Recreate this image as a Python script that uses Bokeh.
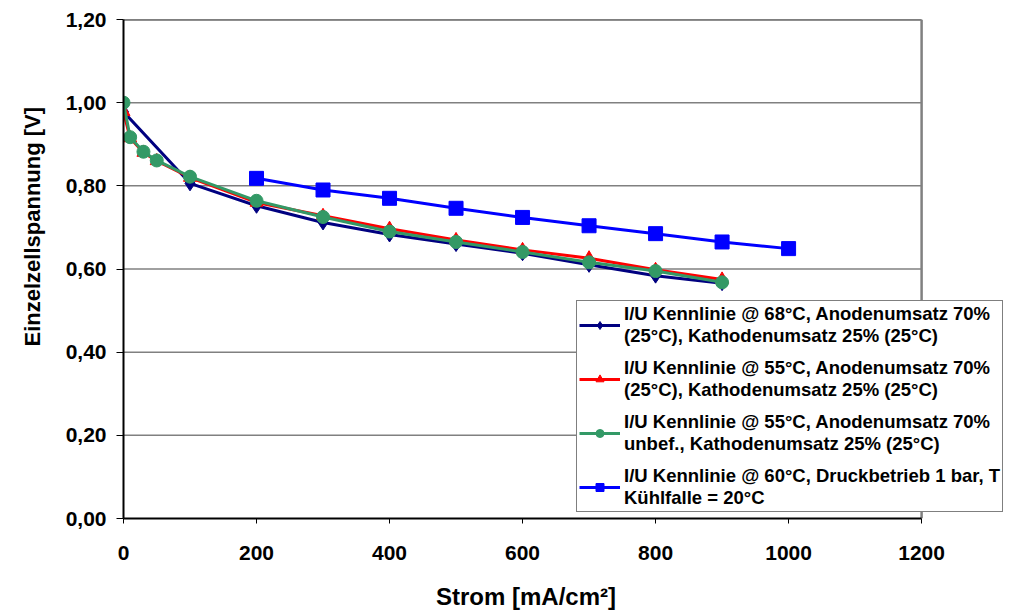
from bokeh.plotting import figure
from bokeh.models import Legend, LegendItem, CustomJSTickFormatter, FixedTicker, Range1d, Title
from bokeh.embed import file_html
from bokeh.resources import INLINE

# ---- data ----
x_68 = [0, 100, 200, 300, 400, 500, 600, 700, 800, 900]
u_68 = [0.978, 0.806, 0.752, 0.712, 0.683, 0.660, 0.638, 0.610, 0.584, 0.566]

x_55a = [0, 10, 30, 50, 100, 200, 300, 400, 500, 600, 700, 800, 900]
u_55a = [0.978, 0.915, 0.880, 0.860, 0.820, 0.760, 0.728, 0.697, 0.670, 0.646, 0.626, 0.598, 0.575]

x_55b = [0, 10, 30, 50, 100, 200, 300, 400, 500, 600, 700, 800, 900]
u_55b = [1.000, 0.917, 0.882, 0.861, 0.822, 0.764, 0.725, 0.690, 0.665, 0.641, 0.616, 0.595, 0.568]

x_60 = [200, 300, 400, 500, 600, 700, 800, 900, 1000]
u_60 = [0.818, 0.790, 0.770, 0.746, 0.724, 0.704, 0.685, 0.665, 0.649]

labels = [
    "I/U Kennlinie @ 68°C, Anodenumsatz 70%\n(25°C), Kathodenumsatz 25% (25°C)",
    "I/U Kennlinie @ 55°C, Anodenumsatz 70%\n(25°C), Kathodenumsatz 25% (25°C)",
    "I/U Kennlinie @ 55°C, Anodenumsatz 70%\nunbef., Kathodenumsatz 25% (25°C)",
    "I/U Kennlinie @ 60°C, Druckbetrieb 1 bar, T\nKühlfalle = 20°C",
]
x_ticks = [0, 200, 400, 600, 800, 1000, 1200]
y_ticks = [0.0, 0.2, 0.4, 0.6, 0.8, 1.0, 1.2]
x_title = "Strom [mA/cm²]"
y_title = "Einzelzellspannung [V]"

FONT = "Liberation Sans"

# layout (pixels)
W, H = 1013, 612
FL, FR, FT, FB = 122, 1008, 19, 519     # frame edges
PLOT_R = 921                              # pixel of x = 1200
x_max = x_ticks[-1]
x_end = x_max * (FR - FL) / (PLOT_R - FL)

p = figure(width=W, height=H, output_backend="svg", toolbar_location=None,
           x_range=Range1d(0, x_end), y_range=Range1d(0, y_ticks[-1]),
           min_border_left=FL, min_border_right=W - FR, min_border_top=FT, min_border_bottom=H - FB)
p.outline_line_color = None
p.background_fill_color = "white"
p.border_fill_color = "white"
p.grid.visible = False

# plot-area grid lines and right border (only up to x = 1200)
p.segment(x0=[0] * (len(y_ticks) - 1), x1=[x_max] * (len(y_ticks) - 1),
          y0=y_ticks[1:], y1=y_ticks[1:], line_color="#808080", line_width=1.5)
p.segment(x0=[0], x1=[x_max], y0=[y_ticks[-1]], y1=[y_ticks[-1]], line_color="#404040", line_width=2)
p.segment(x0=[x_max], x1=[x_max], y0=[0], y1=[y_ticks[-1]], line_color="#808080", line_width=2.5)

p.xaxis.ticker = FixedTicker(ticks=x_ticks)
p.yaxis.ticker = FixedTicker(ticks=y_ticks)
p.xaxis.bounds = (0, x_max)
p.yaxis.formatter = CustomJSTickFormatter(code="return tick.toFixed(2).replace('.', ',');")
for ax in (p.xaxis, p.yaxis):
    ax.axis_line_color = "black"
    ax.axis_line_width = 2
    ax.major_tick_line_color = "black"
    ax.major_tick_in = 0
    ax.minor_tick_line_color = None
    ax.major_label_text_font = FONT
    ax.major_label_text_font_style = "bold"
    ax.major_label_text_font_size = "21px"
    ax.major_label_text_color = "black"
p.xaxis.major_tick_out = 5
p.yaxis.major_tick_out = 7
p.xaxis.major_label_standoff = 22
p.yaxis.major_label_standoff = 10

# x title: axis label, padded on the right so it sits centred under the 0..1200 plot area
p.xaxis.axis_label = x_title + "\u00a0" * 12
p.xaxis.axis_label_standoff = 20
p.xaxis.axis_label_text_font = FONT
p.xaxis.axis_label_text_font_style = "bold"
p.xaxis.axis_label_text_font_size = "24px"
p.xaxis.axis_label_text_color = "black"

# y title: side title, shifted upwards like the reference
yt = Title(text=y_title, align="left", offset=FB - 347, standoff=35,
           text_font=FONT, text_font_style="bold", text_font_size="22px", text_color="black")
p.add_layout(yt, "left")

items = []
l1 = p.line(x_68, u_68, line_color="#000080", line_width=3)
m1 = p.scatter(x_68, u_68, marker="diamond", size=15, fill_color="#000080", line_color="#000080")
items.append(LegendItem(label=labels[0], renderers=[l1, m1]))

l2 = p.line(x_55a, u_55a, line_color="#FF0000", line_width=3)
m2 = p.scatter(x_55a, u_55a, marker="triangle", size=13, fill_color="#FF0000", line_color="#FF0000")
items.append(LegendItem(label=labels[1], renderers=[l2, m2]))

l3 = p.line(x_55b, u_55b, line_color="#339966", line_width=3)
m3 = p.scatter(x_55b, u_55b, marker="circle", size=13, fill_color="#339966", line_color="#339966")
items.append(LegendItem(label=labels[2], renderers=[l3, m3]))

l4 = p.line(x_60, u_60, line_color="#0000FF", line_width=3)
m4 = p.scatter(x_60, u_60, marker="square", size=14, fill_color="#0000FF", line_color="#0000FF")
items.append(LegendItem(label=labels[3], renderers=[l4, m4]))

legend = Legend(items=items, location=(575 - FL, FB - 513))
legend.label_text_font = FONT
legend.label_text_font_style = "bold"
legend.label_text_font_size = "18.5px"
legend.label_text_line_height = 1.4
legend.label_text_color = "black"
legend.glyph_width = 41
legend.glyph_height = 20
legend.label_standoff = 4
legend.padding = 2
legend.spacing = 10
legend.margin = 0
legend.border_line_color = "black"
legend.border_line_width = 1
legend.background_fill_alpha = 1
p.add_layout(legend, "center")

open("out.html", "w").write(file_html(p, INLINE))
